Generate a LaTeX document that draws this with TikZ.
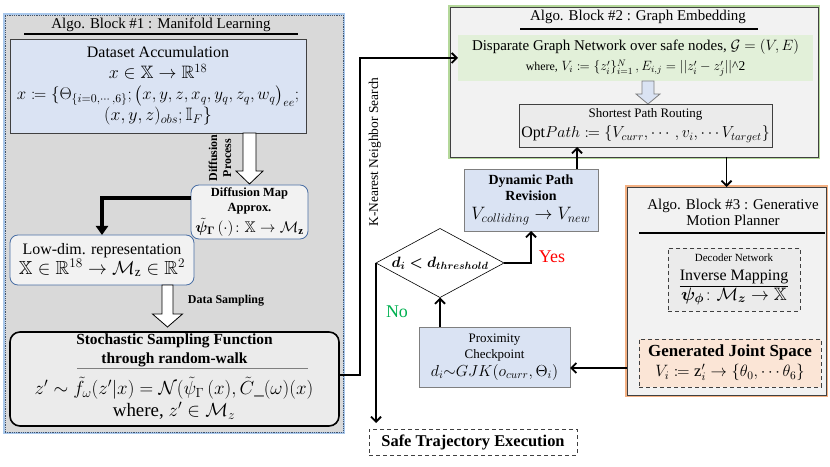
\RequirePackage{fix-cm}
\documentclass[tikz,border=0pt]{standalone}
\usepackage{amsmath,amssymb,mathtools,bm}
\usepackage{fontspec}
\setmainfont{Liberation Serif}
\usetikzlibrary{shapes.geometric,arrows.meta,calc}
\definecolor{bgone}{HTML}{D9D9D9}
\definecolor{haloblue}{HTML}{A9C8EC}
\definecolor{dashdark}{HTML}{44546A}
\definecolor{lblue}{HTML}{DAE3F3}
\definecolor{boxline}{HTML}{404040}
\definecolor{rblue}{HTML}{4A6FA5}
\definecolor{wgray}{HTML}{F2F2F2}
\definecolor{sgray}{HTML}{EBEBEB}
\definecolor{lgreen}{HTML}{E2F0D9}
\definecolor{halogreen}{HTML}{B4D89A}
\definecolor{haloorange}{HTML}{F4B183}
\definecolor{lorange}{HTML}{FBE5D6}
\definecolor{yesred}{HTML}{FF0000}
\definecolor{nogreen}{HTML}{00B050}
\definecolor{mgray}{HTML}{7F7F7F}
\newcommand\hollowarrow[7]{%
  \draw[#7] (#1-#4,#2) -- (#1+#4,#2) -- (#1+#4,#3-#6) -- (#1+#5,#3-#6) -- (#1,#3)
    -- (#1-#5,#3-#6) -- (#1-#4,#3-#6) -- cycle;}
\newcommand\fsz[1]{\fontsize{#1}{#1}\selectfont}
\begin{document}
\begin{tikzpicture}[x=1bp,y=-1bp,
  every node/.style={inner sep=0pt,outer sep=0pt,align=center},
  blkone/.style={rectangle,fill=bgone,draw=dashdark,densely dotted,line width=0.8bp,preaction={draw=haloblue,solid,line width=3bp}},
  blktwo/.style={rectangle,fill=wgray,draw=boxline,line width=0.8bp,preaction={draw=halogreen,line width=3.5bp}},
  blkthree/.style={rectangle,fill=wgray,draw=boxline,line width=0.8bp,preaction={draw=haloorange,line width=3.5bp}},
  sqbox/.style={rectangle,fill=lblue,draw=boxline,line width=0.7bp},
  rbox/.style={rectangle,rounded corners=8bp,fill=wgray,draw=rblue,line width=0.8bp},
  dbox/.style={rectangle,draw=boxline,line width=0.9bp,dash pattern=on 4bp off 3bp},
  conn/.style={line width=1.8bp,-{Straight Barb[length=5bp,width=10bp]}},
  harrow/.style={fill=white,draw=black,line width=0.8bp},
  garrow/.style={fill=lblue,draw=mgray,line width=0.8bp},
  uline/.style={line width=1.4bp},
]
\useasboundingbox (0,0) rectangle (830,467);

% ---------- Block 1 ----------
\node[blkone,minimum width=338bp,minimum height=417bp] (b1) at (174,223.5) {};
\node[font=\fontsize{15}{18}\selectfont] (t1) at (161,25) {Algo. Block \#1 : Manifold Learning};
\draw[uline] (24,34) -- (298,34);

\node[sqbox,minimum width=296bp,minimum height=94bp,font=\fontsize{16}{21}\selectfont] (data) at (158,86)
  {Dataset Accumulation\\ {\fsz{18}$x\in\mathbb{X}\rightarrow\mathbb{R}^{18}$}\\
   {\fsz{17}$x\coloneqq\{\Theta_{\{i=0,\cdots,6\}};\bigl(x,y,z,x_q,y_q,z_q,w_q\bigr)_{ee};$}\\
   {\fsz{18}$(x,y,z)_{obs};\mathbb{I}_F\}$}};

\hollowarrow{249.5}{133}{184}{6.5}{13.5}{13}{harrow}
\node[rotate=90,font=\fontsize{12}{14}\selectfont\bfseries] (dpl) at (220,158) {Diffusion\\Process};

\node[rbox,minimum width=117bp,minimum height=54bp,font=\fontsize{12.5}{15}\selectfont\bfseries] (diff) at (249.5,212)
  {Diffusion Map\\ Approx.\\[3bp]
   {\fsz{15.5}\mdseries $\tilde{\bm\psi}_{\bm\Gamma}\,(\cdot)\colon\mathbb{X}\rightarrow\mathcal{M}_{\mathbf z}$}};

\node[rbox,minimum width=184bp,minimum height=50bp,font=\fontsize{16}{20}\selectfont] (low) at (102,260)
  {Low-dim. representation\\ {\fsz{19}$\mathbb{X}\in\mathbb{R}^{18}\rightarrow\mathcal{M}_{\mathrm z}\in\mathbb{R}^2$}};

\draw[line width=3.5bp,-{Triangle[length=9bp,width=12bp]}] ([yshift=14bp]diff.west) -| (low.north);

\hollowarrow{167.5}{285}{327}{5.5}{15}{13}{harrow}
\node[font=\fontsize{12}{14}\selectfont\bfseries] (dsl) at (226,301) {Data Sampling};

\node[rectangle,rounded corners=10bp,fill=sgray,draw=black,line width=1.6bp,minimum width=329bp,minimum height=94bp] (stoch) at (174.5,379) {};
\node[font=\fontsize{15.5}{19}\selectfont\bfseries] (stt) at (174.5,350.5) {Stochastic Sampling Function\\through random-walk};
\draw[line width=0.5bp,mgray] (77,368) -- (308,368);
\node[font=\fontsize{19}{22}\selectfont] (stf) at (174,398)
  {$z'\sim\tilde f_\omega(z'|x)=\mathcal{N}(\tilde\psi_\Gamma\,(x),\tilde C\_(\omega)(x)$\\ where, $z'\in\mathcal{M}_z$};

% ---------- Block 2 ----------
\node[blktwo,minimum width=368bp,minimum height=150bp] (b2) at (634,82) {};
\node[font=\fontsize{15}{18}\selectfont] (t2) at (638,17) {Algo. Block \#2 : Graph Embedding};
\draw[uline] (520,29) -- (758,29);
\node[rectangle,fill=lgreen,minimum width=355bp,minimum height=46bp,font=\fontsize{15}{20}\selectfont] (disp) at (635.5,58)
  {Disparate Graph Network over safe nodes, $\mathcal{G}=(V,E)$\\
   {\fsz{12}where,} {\fsz{13.5}$V_i\coloneqq\{z_i'\}_{i=1}^N\,,E_{i,j}=||z_i'-z_j'||$\textasciicircum 2}};
\hollowarrow{648}{81}{104}{6}{12}{10}{garrow}
\node[rectangle,fill=sgray,draw=boxline,line width=0.8bp,minimum width=253bp,minimum height=43bp,font=\fontsize{16}{20}\selectfont] (short) at (645.5,125.5)
  {{\fsz{13}Shortest Path Routing}\\
   $\mathrm{Opt}Path\coloneqq\{V_{curr},\cdots,v_i,\cdots V_{target}\}$};

\draw[conn] ([yshift=4bp]stoch.east) -- ++(21,0) |- (disp.west);
\node[rotate=90,font=\fontsize{13.5}{16}\selectfont] (knn) at (375,152) {K-Nearest Neighbor Search};

% ---------- middle ----------
\node[sqbox,draw=mgray,minimum width=134bp,minimum height=62bp,font=\fontsize{14}{16}\selectfont\bfseries] (dyn) at (531,200)
  {Dynamic Path\\Revision\\[3bp]
   {\fsz{18}\mdseries $V_{colliding}\rightarrow V_{new}$}};
\coordinate (a1) at ([xshift=46bp]dyn.north);
\draw[conn] (a1) -- (a1 |- short.south);

\node[diamond,draw=black,line width=0.6bp,fill=white,aspect=1.86,minimum width=128bp,minimum height=69bp,font=\fontsize{15}{17}\selectfont] (dia) at (440,263)
  {$\bm{d_i<d_{threshold}}$};
\draw[conn] (dia.east) -| (dyn.south);
\node[text=yesred,font=\fontsize{18}{20}\selectfont] (yes) at (552,257) {Yes};

\node[dbox,minimum width=208bp,minimum height=26bp,font=\fontsize{16.5}{18}\selectfont\bfseries] (safe) at (473,442) {Safe Trajectory Execution};
\draw[conn,shorten >=6bp] (dia.west) -- (dia.west |- safe.north);
\node[text=nogreen,font=\fontsize{18}{20}\selectfont] (no) at (397,312) {No};

\node[sqbox,draw=mgray,minimum width=151bp,minimum height=60bp,font=\fontsize{13}{16}\selectfont] (prox) at (494.5,357)
  {Proximity\\Checkpoint\\[2bp]
   {\fsz{16}$d_i{\sim}GJK(o_{curr},\Theta_i)$}};
\draw[conn] (dia.south |- prox.north) -- (dia.south);

% ---------- Block 3 ----------
\node[blkthree,minimum width=199bp,minimum height=208bp] (b3) at (726.5,291) {};
\node[font=\fontsize{15}{16}\selectfont] (t3) at (733,212) {Algo. Block \#3 : Generative\\Motion Planner};
\draw[uline] (639,233) -- (825,233);
\draw[conn] (b3.north |- b2.south) -- (b3.north);
\node[dbox,fill=sgray,minimum width=132bp,minimum height=63bp,font=\fontsize{16}{19}\selectfont] (dec) at (734,279.5)
  {{\fsz{11}Decoder Network}\\
   \underline{Inverse Mapping}\\
   {\fsz{18}$\bm{\psi_\phi}\colon\mathcal{M}_{\bm z}\rightarrow\mathbb{X}$}};
\node[dbox,fill=lorange,minimum width=182bp,minimum height=48bp,font=\fontsize{16.5}{20}\selectfont] (gen) at (730,363)
  {{\fsz{17}\bfseries Generated Joint Space}\\
   $V_i\coloneqq\mathrm{z}_i'\rightarrow\{\theta_0,\cdots\theta_6\}$};
\coordinate (a2) at ([yshift=-11bp]prox.east);
\draw[conn] (a2 -| b3.west) -- (a2);
\end{tikzpicture}
\end{document}
